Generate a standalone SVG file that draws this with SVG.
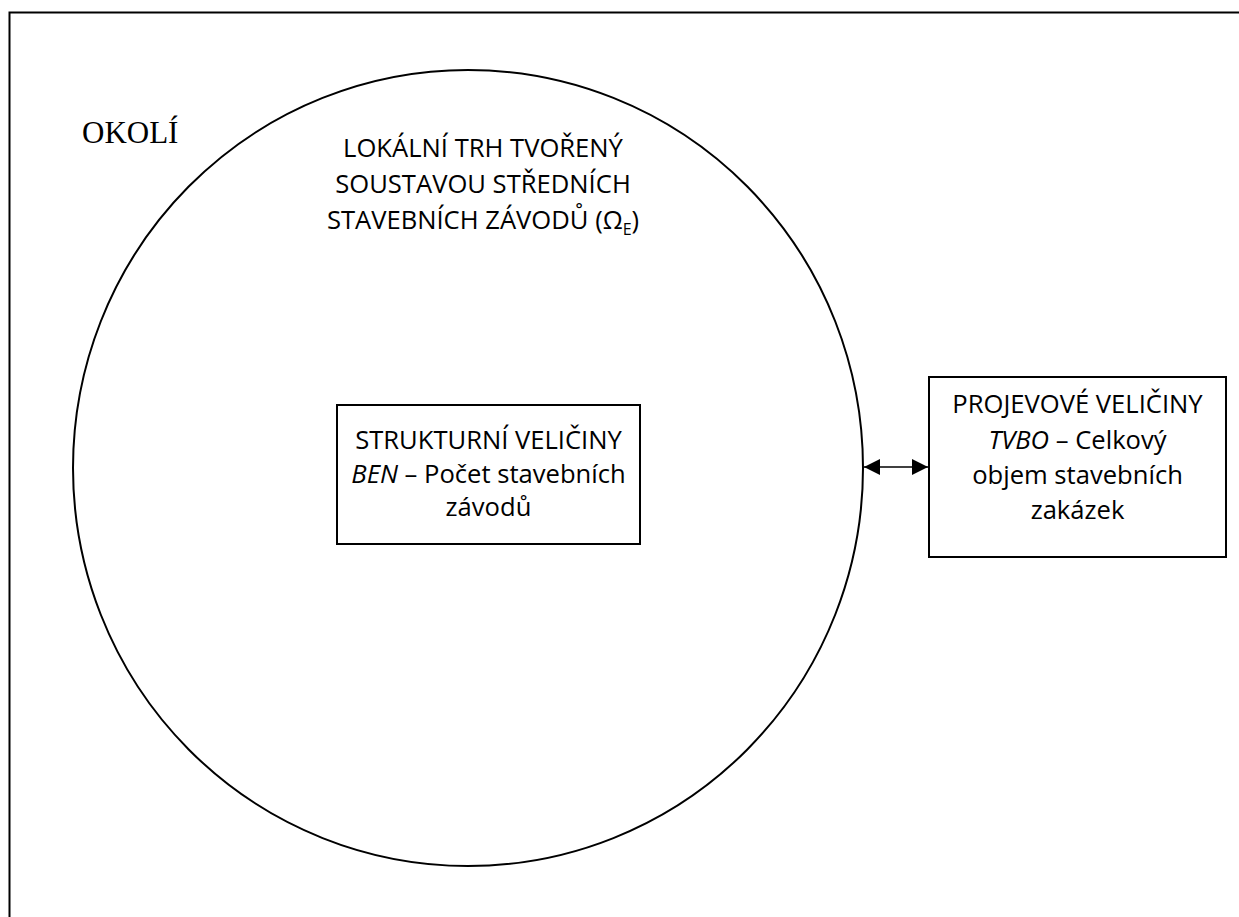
<svg xmlns="http://www.w3.org/2000/svg" width="1239" height="917" viewBox="0 0 1239 917">
  <style>
    .ln { fill: none; stroke: #000; stroke-width: 2; }
    .box { fill: #fff; stroke: #000; stroke-width: 2; }
    .t { font-family: "Open Sans", "Liberation Sans", sans-serif; font-size: 25.6px; fill: #000; text-anchor: middle; }
    .tm { font-family: "Liberation Serif", "Times New Roman", serif; font-size: 31px; fill: #000; }
    .i { font-style: italic; }
  </style>
  <defs>
    <marker id="ah" viewBox="0 0 10 10" refX="10" refY="5" markerWidth="16" markerHeight="16" markerUnits="userSpaceOnUse" orient="auto-start-reverse">
      <path d="M0,0 L10,5 L0,10 Z" fill="#000"/>
    </marker>
  </defs>
  <rect width="1239" height="917" fill="#fff"/>
  <g id="frame">
    <path class="ln" d="M9.5,930 L9.5,12.5 L1245,12.5"/>
    <text class="tm" x="82" y="143">OKOLÍ</text>
  </g>
  <g id="market">
    <ellipse class="ln" cx="468" cy="468" rx="395" ry="398"/>
    <text class="t" x="483" y="157">LOKÁLNÍ TRH TVOŘENÝ</text>
    <text class="t" x="483" y="193">SOUSTAVOU STŘEDNÍCH</text>
    <text class="t" x="483" y="229">STAVEBNÍCH ZÁVODŮ (Ω<tspan font-size="16" dy="6">E</tspan><tspan dy="-6">)</tspan></text>
  </g>
  <g id="structural">
    <rect class="box" x="337" y="405" width="303" height="139"/>
    <text class="t" x="488.5" y="449">STRUKTURNÍ VELIČINY</text>
    <text class="t" x="488.5" y="483"><tspan class="i">BEN</tspan> – Počet stavebních</text>
    <text class="t" x="488.5" y="516">závodů</text>
  </g>
  <g id="manifest">
    <rect class="box" x="929" y="377" width="297" height="180"/>
    <text class="t" x="1077.5" y="413">PROJEVOVÉ VELIČINY</text>
    <text class="t" x="1077.5" y="449"><tspan class="i">TVBO</tspan> – Celkový</text>
    <text class="t" x="1077.5" y="484">objem stavebních</text>
    <text class="t" x="1077.5" y="519">zakázek</text>
  </g>
  <g id="connectors">
    <line x1="864" y1="467" x2="928" y2="467" stroke="#000" stroke-width="1.5" marker-start="url(#ah)" marker-end="url(#ah)"/>
  </g>
</svg>
